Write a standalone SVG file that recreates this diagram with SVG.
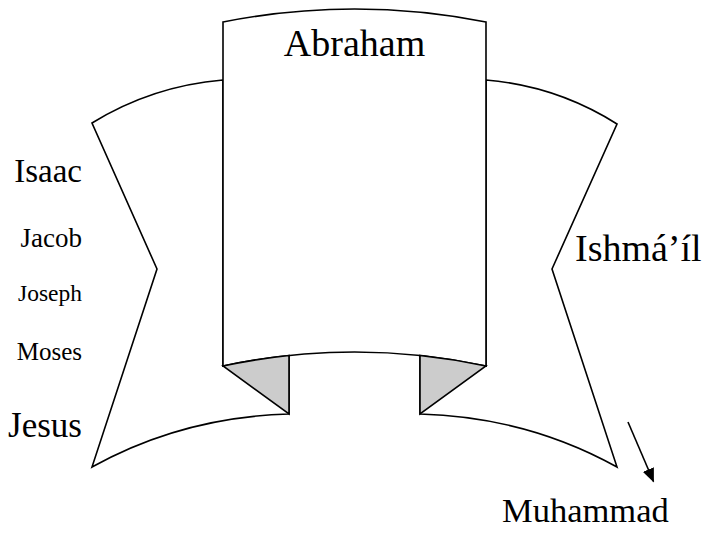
<svg xmlns="http://www.w3.org/2000/svg" width="704" height="533" viewBox="0 0 704 533">
<style>
.shape{fill:#ffffff;stroke:#000000;stroke-width:1.6;stroke-linejoin:miter}
.shade{fill:#cccccc;stroke:#000000;stroke-width:1.6;stroke-linejoin:miter}
.lbl{font-family:"Liberation Serif","Times New Roman",serif;fill:#000000}
.conn{stroke:#000000;stroke-width:1.6;fill:none}
</style>
<defs>
<marker id="arrowhead" viewBox="0 0 14 12" refX="13" refY="6" markerWidth="14" markerHeight="12" markerUnits="userSpaceOnUse" orient="auto">
<path d="M0,0 L14,6 L0,12 Z" fill="#000000"/>
</marker>
</defs>
<rect width="704" height="533" fill="#ffffff"/>
<g id="left-wing">
<path class="shape" d="M223,80 Q152,86 92,123 L157,269 L92,467 Q182,417 289,414 L289,357 L223,366 Z"/>
</g>
<g id="right-wing">
<path class="shape" d="M486,80 Q557,86 617,124 L552,269 L617,467 Q527,417 420,414 L420,357 L486,366 Z"/>
</g>
<g id="center-panel">
<path class="shape" d="M223,22 Q354.5,-4 486,22 L486,366 Q354.5,338 223,366 Z"/>
</g>
<g id="left-fold">
<path class="shade" d="M223,366 Q256,359 289,355.5 L289,414 Z"/>
</g>
<g id="right-fold">
<path class="shade" d="M486,366 Q453,359 420,355.5 L420,414 Z"/>
</g>
<g id="abraham"><text class="lbl" x="354.5" y="56" font-size="38" text-anchor="middle">Abraham</text></g>
<g id="isaac"><text class="lbl" x="82" y="182" font-size="33" text-anchor="end">Isaac</text></g>
<g id="jacob"><text class="lbl" x="82" y="247" font-size="27" text-anchor="end">Jacob</text></g>
<g id="joseph"><text class="lbl" x="82" y="301" font-size="23.5" text-anchor="end">Joseph</text></g>
<g id="moses"><text class="lbl" x="82" y="360" font-size="25" text-anchor="end">Moses</text></g>
<g id="jesus"><text class="lbl" x="82" y="437" font-size="35" text-anchor="end">Jesus</text></g>
<g id="ishmail"><text class="lbl" x="575" y="261" font-size="38">Ishmá’íl</text></g>
<g id="muhammad"><text class="lbl" x="502" y="522" font-size="34.5">Muhammad</text></g>
<g id="connectors">
<line class="conn" x1="628" y1="422" x2="653.5" y2="481.5" marker-end="url(#arrowhead)"/>
</g>
</svg>
